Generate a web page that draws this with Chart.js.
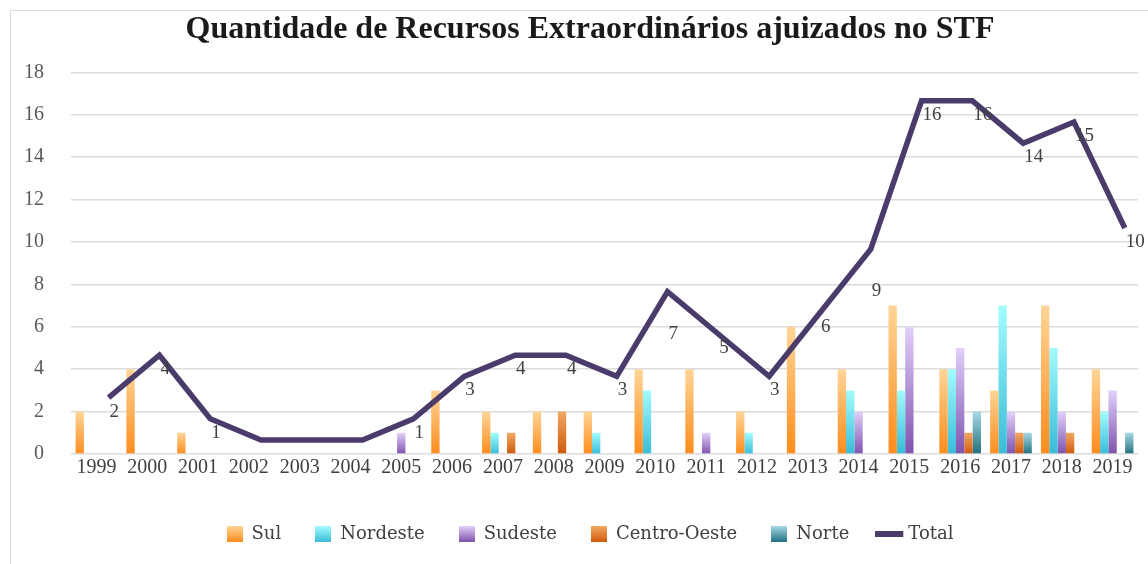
<!DOCTYPE html>
<html>
<head>
<meta charset="utf-8">
<script src="https://cdn.jsdelivr.net/npm/chart.js@4.4.1/dist/chart.umd.min.js"></script>
<style>
  html, body { margin: 0; padding: 0; background: #fff; overflow: hidden; }
  #frame { position: absolute; left: 10px; top: 10px; width: 1200px; height: 600px;
           border-left: 1px solid #d9d9d9; border-top: 1px solid #d9d9d9; }
  #box { position: absolute; left: 0; top: 0; width: 1155px; height: 553px; }
</style>
</head>
<body>
<div id="frame"><div id="box"><canvas id="chart"></canvas></div></div>
<script>
// data
var years = ['1999', '2000', '2001', '2002', '2003', '2004', '2005', '2006', '2007', '2008', '2009',
             '2010', '2011', '2012', '2013', '2014', '2015', '2016', '2017', '2018', '2019'];
var sul         = [2, 4, 1, 0, 0, 0, 0, 3, 2, 2, 2, 4, 4, 2, 6, 4, 7, 4, 3, 7, 4];
var nordeste    = [0, 0, 0, 0, 0, 0, 0, 0, 1, 0, 1, 3, 0, 1, 0, 3, 3, 4, 7, 5, 2];
var sudeste     = [0, 0, 0, 0, 0, 0, 1, 0, 0, 0, 0, 0, 1, 0, 0, 2, 6, 5, 2, 2, 3];
var centroOeste = [0, 0, 0, 0, 0, 0, 0, 0, 1, 2, 0, 0, 0, 0, 0, 0, 0, 1, 1, 1, 0];
var norte       = [0, 0, 0, 0, 0, 0, 0, 0, 0, 0, 0, 0, 0, 0, 0, 0, 0, 2, 1, 0, 1];
var total       = [2, 4, 1, 0, 0, 0, 1, 3, 4, 4, 3, 7, 5, 3, 6, 9, 16, 16, 14, 15, 10];
var yTicks      = [0, 2, 4, 6, 8, 10, 12, 14, 16, 18];

var serif = "'Liberation Serif', 'Times New Roman', serif";
var lineColor = '#4b3b6b';

// light top -> saturated bottom, like the office gradient fill
function barFill(top, bottom) {
  return function (c) {
    var chart = c.chart, y = chart.scales.y;
    if (!chart.chartArea || !y || c.type !== 'data') return bottom;
    var v = c.raw || 0;
    var y0 = y.getPixelForValue(0), y1 = y.getPixelForValue(v);
    if (y0 - y1 < 1) return bottom;
    var g = chart.ctx.createLinearGradient(0, y1, 0, y0);
    g.addColorStop(0, top);
    g.addColorStop(1, bottom);
    return g;
  };
}

function boxMark(top, bottom) {
  var cv = document.createElement('canvas');
  cv.width = 16; cv.height = 16;
  var x = cv.getContext('2d');
  var g = x.createLinearGradient(0, 0, 0, 16);
  g.addColorStop(0, top);
  g.addColorStop(1, bottom);
  x.fillStyle = g;
  x.fillRect(0, 0, 16, 16);
  return cv;
}

function lineMark() {
  var cv = document.createElement('canvas');
  cv.width = 32; cv.height = 6;
  var x = cv.getContext('2d');
  x.fillStyle = lineColor;
  x.fillRect(0, 0, 28, 6);
  return cv;
}

var fills = [
  ['#ffd597', '#ff8c1c'],
  ['#a3fcff', '#38bcd8'],
  ['#e2d0fb', '#7e52ad'],
  ['#f2a862', '#d0590b'],
  ['#a6d9e6', '#22707f']
];
var legendMarks = fills.map(function (f) { return boxMark(f[0], f[1]); });
legendMarks.push(lineMark());

function barSet(label, values, k) {
  return {
    type: 'bar',
    label: label,
    data: values,
    backgroundColor: barFill(fills[k][0], fills[k][1]),
    borderWidth: 0,
    categoryPercentage: 0.82,
    barPercentage: 1.0,
    order: 2
  };
}

// in the original the total line is drawn a little to the right of the category centres
function lineShift(chart, opts) {
  var x = chart.scales.x;
  return opts.shift * x.width / chart.data.labels.length;
}

var shiftTotal = {
  id: 'shiftTotal',
  beforeDatasetDraw: function (chart, args, opts) {
    if (args.index !== opts.datasetIndex) return;
    chart.ctx.save();
    chart.ctx.translate(lineShift(chart, opts), 0);
  },
  afterDatasetDraw: function (chart, args, opts) {
    if (args.index !== opts.datasetIndex) return;
    chart.ctx.restore();
  }
};

var totalLabels = {
  id: 'totalLabels',
  afterDatasetsDraw: function (chart, args, opts) {
    var meta = chart.getDatasetMeta(opts.datasetIndex);
    var y = chart.scales.y, ctx = chart.ctx;
    var dx = lineShift(chart, opts) + opts.dx;
    ctx.save();
    ctx.font = opts.font;
    ctx.fillStyle = opts.color;
    ctx.textAlign = 'left';
    ctx.textBaseline = 'middle';
    meta.data.forEach(function (pt, i) {
      var v = total[i];
      if (!v) return;
      ctx.fillText(String(v), pt.x + dx, y.getPixelForValue(v) + (opts.nudge[i] || 0));
    });
    ctx.restore();
  }
};

var ctx = document.getElementById('chart').getContext('2d');
new Chart(ctx, {
  type: 'bar',
  data: {
    labels: years,
    datasets: [
      barSet('Sul', sul, 0),
      barSet('Nordeste', nordeste, 1),
      barSet('Sudeste', sudeste, 2),
      barSet('Centro-Oeste', centroOeste, 3),
      barSet('Norte', norte, 4),
      {
        type: 'line',
        label: 'Total',
        data: total,
        yAxisID: 'y2',
        borderColor: lineColor,
        borderWidth: 5.5,
        pointRadius: 0,
        tension: 0,
        fill: false,
        clip: false,
        order: 0
      }
    ]
  },
  options: {
    responsive: true,
    maintainAspectRatio: false,
    animation: false,
    layout: { padding: { left: 13, right: 10, top: 0, bottom: 11 } },
    plugins: {
      title: {
        display: true,
        text: 'Quantidade de Recursos Extraordinários ajuizados no STF',
        color: '#1a1a1a',
        font: { family: serif, size: 32, weight: 'bold' },
        padding: { top: 0, bottom: 23 }
      },
      legend: {
        position: 'bottom',
        labels: {
          usePointStyle: true,
          boxWidth: 16,
          boxHeight: 16,
          padding: 34,
          color: '#404040',
          font: { family: "'DejaVu Serif', serif", size: 18 },
          generateLabels: function (chart) {
            return chart.data.datasets.map(function (ds, i) {
              return {
                text: ds.label,
                pointStyle: legendMarks[i],
                fontColor: '#404040',
                fillStyle: 'transparent',
                strokeStyle: 'transparent',
                lineWidth: 0,
                hidden: false,
                datasetIndex: i
              };
            });
          }
        }
      },
      tooltip: { enabled: false },
      shiftTotal: { datasetIndex: 5, shift: 0.24 },
      totalLabels: {
        datasetIndex: 5,
        shift: 0.24,
        font: '19px ' + serif,
        color: '#404040',
        dx: 1,
        nudge: { 11: 28, 15: 28 }
      }
    },
    scales: {
      x: {
        type: 'category',
        offset: true,
        grid: { display: false, drawTicks: false },
        border: { display: false },
        ticks: {
          color: '#404040',
          padding: 2,
          maxRotation: 0,
          autoSkip: false,
          font: { family: serif, size: 20 }
        },
        afterFit: function (scale) { scale.height = 37; }
      },
      y: {
        min: 0,
        max: 18,
        afterBuildTicks: function (scale) {
          scale.ticks = yTicks.map(function (v) { return { value: v }; });
        },
        grid: { color: '#dcdcdc', lineWidth: 1.5, drawTicks: false },
        border: { display: false },
        ticks: {
          color: '#595959',
          padding: 27,
          font: { family: serif, size: 20 }
        },
        afterFit: function (scale) { scale.width = 47; }
      },
      // the total line also sits a bit higher than its values in the original
      y2: {
        type: 'linear', position: 'right', min: -0.66, max: 17.34,
        grid: { display: false, drawTicks: false },
        border: { display: false },
        ticks: { display: false },
        afterFit: function (scale) { scale.width = 18; }
      }
    }
  },
  plugins: [shiftTotal, totalLabels]
});
</script>
</body>
</html>
